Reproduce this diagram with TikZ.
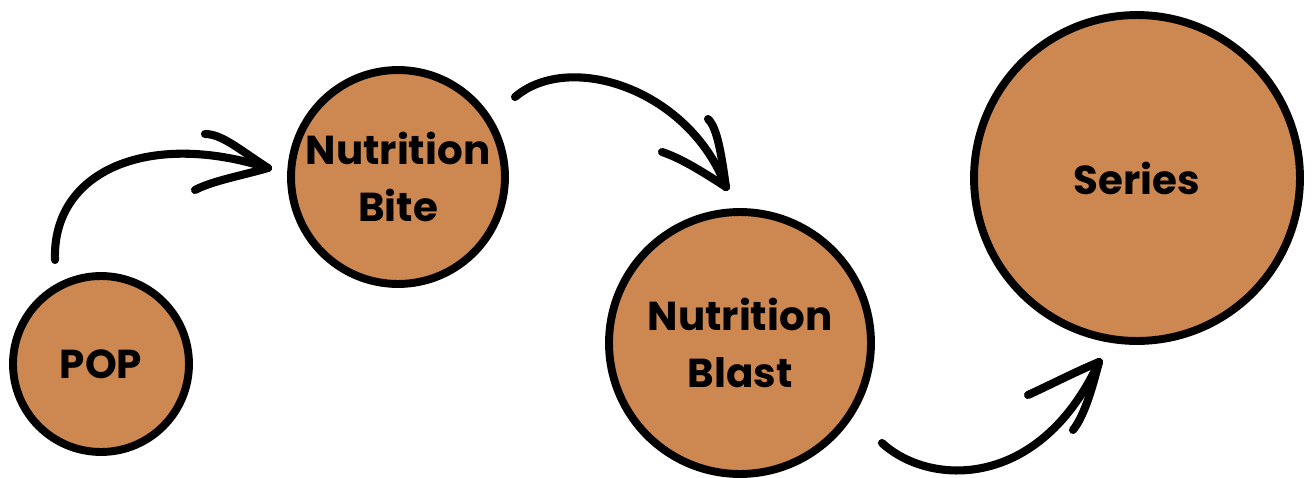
\documentclass[tikz,border=0pt]{standalone}
\usepackage{fontspec}
\setmainfont{Poppins}
\usepackage{tikz}
\usetikzlibrary{positioning}

\definecolor{clay}{RGB}{205,136,81}

\tikzset{
  stage/.style={circle,draw=black,line width=4.5pt,fill=clay,align=center,
    font=\bfseries\fontsize{23}{32}\selectfont,inner sep=0pt},
  curl/.style={line width=4.6pt,line cap=round,line join=round},
}

\begin{document}
\begin{tikzpicture}[x=0.02cm,y=-0.02cm]
        \useasboundingbox (0,0) rectangle (1312,477);
        \node[stage,minimum size=3.52cm] (pop) at (101,364) {POP};
        \node[stage,minimum size=4.28cm] (bite) at (398,177) {Nutrition\\Bite};
        \node[stage,minimum size=5.24cm] (blast) at (740,343) {Nutrition\\Blast};
        \node[stage,minimum size=6.52cm] (series) at (1137,178) {Series};
        % free ends of the curls
        \coordinate (popOut) at (55,260);
        \coordinate (biteIn) at (268,168);
        \coordinate (biteOut) at (515,97);
        \coordinate (blastIn) at (726,187);
        \coordinate (blastOut) at (882,443);
        \coordinate (seriesIn) at (1099,362);
        % curls
        \draw[curl](popOut) .. controls (52,170) and (150,130) .. (biteIn);
        \draw[curl](biteIn) .. controls (240,150) and (222,134) .. (205,134);
        \draw[curl](biteIn) .. controls (240,176) and (212,181) .. (195,190);
        \draw[curl](biteOut) .. controls (570,50) and (690,90) .. (blastIn);
        \draw[curl](blastIn) .. controls (700,170) and (680,158) .. (662,152);
        \draw[curl](blastIn) .. controls (722,160) and (718,128) .. (708,119);
        \draw[curl](blastOut) .. controls (930,487) and (1040,490) .. (seriesIn);
        \draw[curl](seriesIn) .. controls (1075,372) and (1050,385) .. (1028,395);
        \draw[curl](seriesIn) .. controls (1093,385) and (1085,415) .. (1073,430);
    \end{tikzpicture}
\end{document}
